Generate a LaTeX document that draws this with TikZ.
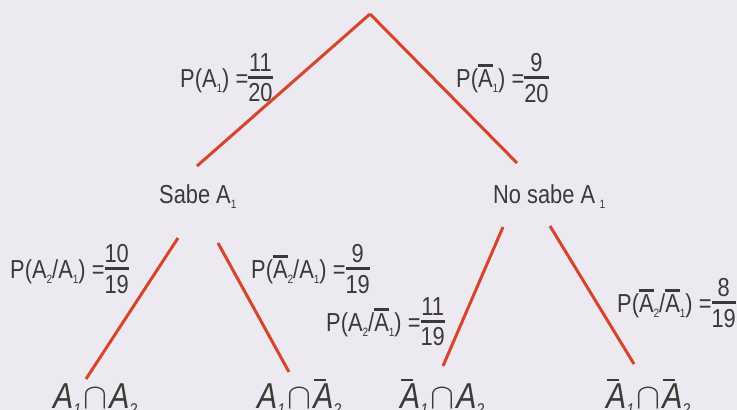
\RequirePackage{fix-cm}
\documentclass[tikz,border=0pt]{standalone}
\usepackage{fontspec}
\setmainfont{Liberation Sans}[FakeStretch=0.84]
\usetikzlibrary{calc}
\definecolor{bgcol}{HTML}{EDE9F1}
\definecolor{branchred}{HTML}{D8432B}
\definecolor{ink}{HTML}{3B3A36}
% small lowered indices and barred letters
\newcommand{\lo}[1]{\raisebox{-5pt}{\fontsize{12}{12}\selectfont #1}}
\newcommand{\loi}[1]{\raisebox{-7pt}{\fontsize{17}{17}\selectfont #1}}
\newcommand{\bA}{\leavevmode\vbox{\hrule height 3.5pt\kern 2pt\hbox{A}}}
\newcommand{\bAi}{\leavevmode\vbox{\offinterlineskip\moveright 1pt\vbox{\hrule width 12pt height 2pt}\kern 2.5pt\hbox{A}}}
\newcommand{\fr}[2]{\raisebox{2.5pt}{$\vcenter{\offinterlineskip\halign{\hfil##\hfil\cr #1\cr\noalign{\kern 4pt\hrule height 3.3pt\kern 4pt}\vrule height 19pt width 0pt #2\cr}}$}}

\begin{document}
\begin{tikzpicture}[x=1pt, y=-1pt]
    % Styles for labels and branches
    \tikzstyle{prob} = [inner sep=0pt, anchor=west, text=ink, font=\fontsize{26}{30}\selectfont]
    \tikzstyle{event} = [inner sep=0pt, anchor=base west, text=ink, font=\fontsize{26}{30}\selectfont]
    \tikzstyle{leaf} = [inner sep=0pt, anchor=base west, text=ink, font=\fontsize{36}{40}\selectfont\itshape]
    \tikzstyle{branch} = [draw=branchred, line width=3pt]

  % Background
    \fill[bgcol] (0,0) rectangle (737,410);
    \useasboundingbox (0,0) rectangle (737,410);

  % Nodes with explicit coordinates
    \coordinate (root) at (370,14);
    \node[event] (sabe) at (159,203) {Sabe A\lo{1}};
    \node[event] (nosabe) at (493,203) {No sabe A\,\lo{1}};
    \node[leaf] (AA) at (53,408) {A\loi{1}\hspace{2pt}$\cap$\hspace{2pt}A\loi{2}};
    \node[leaf] (AnA) at (257,408) {A\loi{1}\hspace{2pt}$\cap$\hspace{2pt}\bAi\loi{2}};
    \node[leaf] (nAA) at (400,408) {\bAi\loi{1}\hspace{2pt}$\cap$\hspace{2pt}A\loi{2}};
    \node[leaf] (nAnA) at (606,408) {\bAi\loi{1}\hspace{2pt}$\cap$\hspace{2pt}\bAi\loi{2}};

  % Probabilities
    \node[prob] (pA) at (180,78) {P(A\lo{1}) =\fr{11}{20}};
    \node[prob] (pnA) at (456,78) {P(\bA\lo{1}) =\fr{9}{20}};
    \node[prob] (pAA) at (10,269) {P(A\lo{2}/A\lo{1}) =\fr{10}{19}};
    \node[prob] (pnAA) at (251,269) {P(\bA\lo{2}/A\lo{1}) =\fr{9}{19}};
    \node[prob] (pAnA) at (326,322) {P(A\lo{2}/\bA\lo{1}) =\fr{11}{19}};
    \node[prob] (pnAnA) at (617,303) {P(\bA\lo{2}/\bA\lo{1}) =\fr{8}{19}};

  % Branch ends
    \coordinate (sabeUp) at (197,166);
    \coordinate (nosabeUp) at (517,163);
    \coordinate (sabeL) at (178,238);
    \coordinate (sabeR) at (218,243);
    \coordinate (nosabeL) at (503,227);
    \coordinate (nosabeR) at (550,226);
    \coordinate (AAUp) at (86,379);
    \coordinate (AnAUp) at (289,372);
    \coordinate (nAAUp) at (443,366);
    \coordinate (nAnAUp) at (634,364);

  % Branches
    \draw[branch] (root) -- (sabeUp);
    \draw[branch] (root) -- (nosabeUp);
    \draw[branch] (sabeL) -- (AAUp);
    \draw[branch] (sabeR) -- (AnAUp);
    \draw[branch] (nosabeL) -- (nAAUp);
    \draw[branch] (nosabeR) -- (nAnAUp);

\end{tikzpicture}
\end{document}
